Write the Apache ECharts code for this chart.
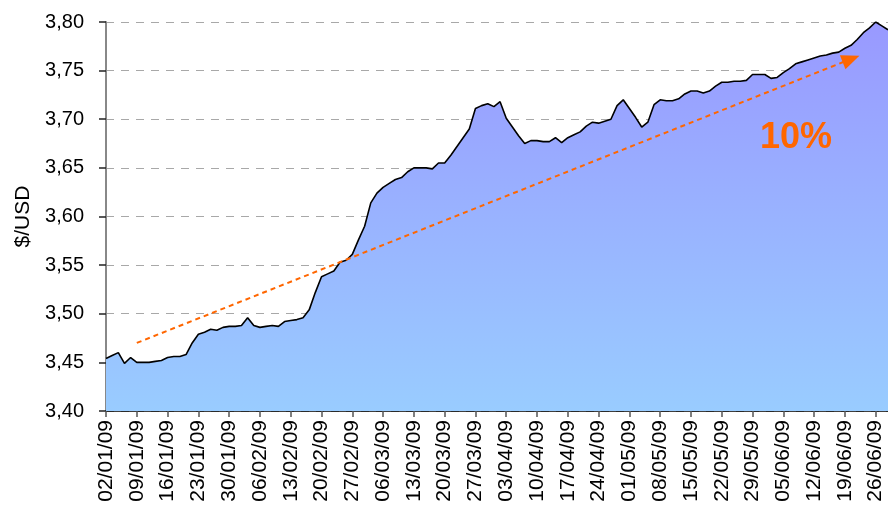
<!DOCTYPE html>
<html>
<head>
<meta charset="utf-8">
<script src="https://cdn.jsdelivr.net/npm/echarts@6/dist/echarts.min.js"></script>
<style>
  html, body { margin: 0; padding: 0; background: #fff; }
  #chart { width: 888px; height: 511px; }
</style>
</head>
<body>
<div id="chart"></div>
<script>
// business days, 02/01/09 .. 30/06/09
const firstDay = '2009-01-02'
const dayCount = 128

// $/USD daily closes
const rates = [
  3.454, 3.457, 3.460, 3.449, 3.455, 3.450, 3.450, 3.450, 3.451, 3.452,
  3.455, 3.456, 3.456, 3.458, 3.470, 3.479, 3.481, 3.484, 3.483, 3.486,
  3.487, 3.487, 3.488, 3.496, 3.488, 3.486, 3.487, 3.488, 3.487, 3.492,
  3.493, 3.494, 3.496, 3.504, 3.522, 3.538, 3.541, 3.544, 3.553, 3.555,
  3.561, 3.576, 3.590, 3.614, 3.624, 3.630, 3.634, 3.638, 3.640, 3.646,
  3.650, 3.650, 3.650, 3.649, 3.655, 3.655, 3.663, 3.672, 3.681, 3.690,
  3.711, 3.714, 3.716, 3.713, 3.718, 3.701, 3.692, 3.683, 3.675, 3.678,
  3.678, 3.677, 3.677, 3.681, 3.676, 3.681, 3.684, 3.687, 3.693, 3.697,
  3.696, 3.698, 3.700, 3.714, 3.720, 3.711, 3.702, 3.692, 3.697, 3.715,
  3.720, 3.719, 3.719, 3.721, 3.726, 3.729, 3.729, 3.727, 3.729, 3.734,
  3.738, 3.738, 3.739, 3.739, 3.740, 3.746, 3.746, 3.746, 3.742, 3.743,
  3.748, 3.752, 3.757, 3.759, 3.761, 3.763, 3.765, 3.766, 3.768, 3.769,
  3.773, 3.776, 3.782, 3.789, 3.794, 3.800, 3.796, 3.792,
]

// trend arrow: [category index, value]
const trendStart = [5, 3.470]
const trendEnd = [121, 3.762]
const trendLabel = '10%'

const yMin = 3.40
const yMax = 3.80
const yStep = 0.05

const pad = (n) => n.toString().padStart(2, '0')
const dates = []
{
  const d = new Date(firstDay + 'T12:00:00')
  while (dates.length < dayCount) {
    const wd = d.getDay()
    if (wd !== 0 && wd !== 6) {
      dates.push(`${pad(d.getDate())}/${pad(d.getMonth() + 1)}/${pad(d.getFullYear() % 100)}`)
    }
    d.setDate(d.getDate() + 1)
  }
}

const font = 'Liberation Sans, Arial, sans-serif'
const orange = '#FF6600'

const chart = echarts.init(document.getElementById('chart'))
chart.setOption({
  animation: false,
  grid: { left: 106, right: 0, top: 22, bottom: 100 },
  xAxis: {
    type: 'category',
    data: dates,
    boundaryGap: false,
    axisLine: { lineStyle: { color: '#000', width: 1.5 } },
    axisTick: { interval: 4, length: 6, lineStyle: { color: '#555', width: 1.5 } },
    axisLabel: {
      interval: 4,
      rotate: 90,
      margin: 9,
      color: '#000',
      fontSize: 21,
      fontFamily: font,
    },
    splitLine: { show: false },
  },
  yAxis: {
    type: 'value',
    min: yMin,
    max: yMax,
    interval: yStep,
    name: '$/USD',
    nameLocation: 'middle',
    nameGap: 72,
    nameTextStyle: { color: '#000', fontSize: 21, fontFamily: font },
    axisLine: { show: true, lineStyle: { color: '#888', width: 2 } },
    axisTick: { show: true, length: 7, lineStyle: { color: '#222', width: 1.5 } },
    axisLabel: {
      margin: 22,
      color: '#000',
      fontSize: 20,
      fontFamily: font,
      formatter: (v) => v.toFixed(2).replace('.', ','),
    },
    splitLine: { lineStyle: { color: '#a8a8a8', width: 1.2, type: [8, 7] } },
  },
  series: [
    {
      type: 'line',
      data: rates,
      symbol: 'none',
      lineStyle: { color: '#000', width: 1.6 },
      areaStyle: {
        opacity: 1,
        color: new echarts.graphic.LinearGradient(0, 22, 0, 411, [
          { offset: 0, color: '#9999FF' },
          { offset: 1, color: '#99CCFF' },
        ], true),
      },
      markLine: {
        silent: true,
        symbol: ['none', 'triangle'],
        symbolSize: [15, 18],
        label: { show: false },
        lineStyle: { color: orange, width: 2, type: [5, 4] },
        data: [[
          { coord: [dates[trendStart[0]], trendStart[1]] },
          { coord: [dates[trendEnd[0]], trendEnd[1]] },
        ]],
      },
    },
  ],
  graphic: [
    {
      type: 'text',
      x: 760,
      y: 120,
      z: 100,
      style: {
        text: trendLabel,
        fill: orange,
        fontSize: 36,
        fontWeight: 'bold',
        fontFamily: font,
      },
    },
  ],
})
</script>
</body>
</html>
